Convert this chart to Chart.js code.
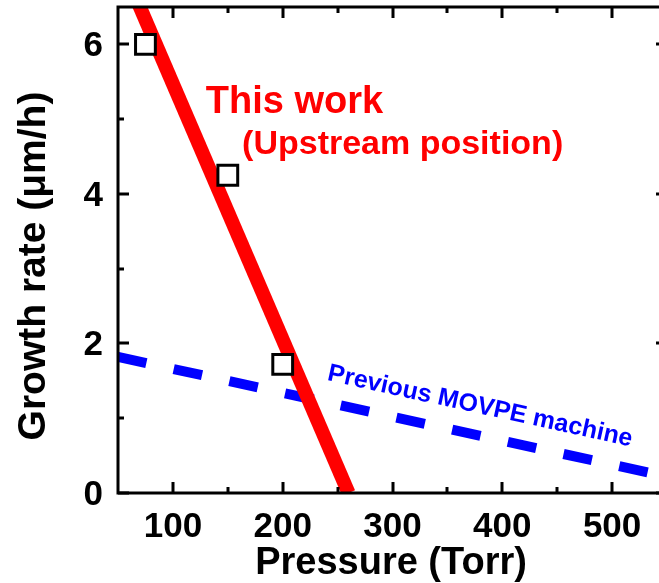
<!DOCTYPE html>
<html>
<head>
<meta charset="utf-8">
<script src="https://cdn.jsdelivr.net/npm/chart.js@4/dist/chart.umd.min.js"></script>
<style>
  html, body { margin: 0; padding: 0; background: #fff; overflow: hidden; }
  #wrap { width: 659px; height: 583px; overflow: hidden; }
</style>
</head>
<body>
<div id="wrap"><canvas id="chGrowth" width="680" height="583"></canvas></div>
<script>
// measured growth rates (open squares)
var pressure = [75, 150, 200];
var growthRate = [6.0, 4.25, 1.72];

// red fit line, this work
var fitX = [60, 260];
var fitY = [6.84, 0];

// blue dashed line, previous MOVPE machine
var prevX = [50, 550];
var prevY = [1.82, 0.22];

// axis ticks
var xTicks = [100, 200, 300, 400, 500];
var xMinor = [150, 250, 350, 450];
var yTicks = [0, 2, 4, 6];
var yMinor = [1, 3, 5];

var font = "'Liberation Sans', Arial, sans-serif";

function pts(xs, ys) {
  return xs.map(function (v, i) { return {x: v, y: ys[i]}; });
}

// frame with inward ticks on all four sides, tick labels, titles and notes
var framePlugin = {
  id: 'frame',
  afterDatasetsDraw: function (chart) {
    var ctx = chart.ctx, a = chart.chartArea;
    var sx = chart.scales.x, sy = chart.scales.y;
    ctx.save();
    ctx.strokeStyle = '#000';
    ctx.lineWidth = 3;
    ctx.lineCap = 'butt';
    ctx.strokeRect(a.left, a.top, a.right - a.left, a.bottom - a.top);

    function xTick(v, len) {
      var px = Math.round(sx.getPixelForValue(v));
      ctx.beginPath();
      ctx.moveTo(px, a.bottom); ctx.lineTo(px, a.bottom - len);
      ctx.moveTo(px, a.top); ctx.lineTo(px, a.top + len);
      ctx.stroke();
    }
    function yTick(v, len) {
      var py = Math.round(sy.getPixelForValue(v));
      ctx.beginPath();
      ctx.moveTo(a.left, py); ctx.lineTo(a.left + len, py);
      ctx.moveTo(a.right, py); ctx.lineTo(a.right - len, py);
      ctx.stroke();
    }
    xTicks.forEach(function (v) { xTick(v, 11); });
    xMinor.forEach(function (v) { xTick(v, 6); });
    yTicks.forEach(function (v) { yTick(v, 11); });
    yMinor.forEach(function (v) { yTick(v, 6); });

    // tick labels
    ctx.fillStyle = '#000';
    ctx.font = 'bold 35px ' + font;
    ctx.textBaseline = 'alphabetic';
    ctx.textAlign = 'center';
    xTicks.forEach(function (v) {
      ctx.fillText(String(v), sx.getPixelForValue(v), a.bottom + 44);
    });
    ctx.textAlign = 'right';
    yTicks.forEach(function (v) {
      ctx.fillText(String(v), a.left - 15, sy.getPixelForValue(v) + 12);
    });

    // axis titles
    ctx.font = 'bold 38px ' + font;
    ctx.textAlign = 'center';
    ctx.fillText('Pressure (Torr)', 391, 574);
    ctx.save();
    ctx.translate(45, 266);
    ctx.rotate(-Math.PI / 2);
    ctx.font = 'bold 39px ' + font;
    ctx.fillText('Growth rate (\u03bcm/h)', 0, 0);
    ctx.restore();

    // annotations anchored in data space
    ctx.textAlign = 'left';
    ctx.fillStyle = '#ff0000';
    ctx.font = 'bold 38px ' + font;
    ctx.fillText('This work', sx.getPixelForValue(130), sy.getPixelForValue(5.08));
    ctx.font = 'bold 34px ' + font;
    ctx.fillText('(Upstream position)', sx.getPixelForValue(163), sy.getPixelForValue(4.53));

    ctx.fillStyle = '#0000ff';
    ctx.font = 'bold 25px ' + font;
    ctx.save();
    ctx.translate(sx.getPixelForValue(240), sy.getPixelForValue(1.51));
    ctx.rotate(12.3 * Math.PI / 180);
    ctx.fillText('Previous MOVPE machine', 0, 0);
    ctx.restore();

    ctx.restore();
  }
};

new Chart(document.getElementById('chGrowth'), {
  type: 'scatter',
  data: {
    datasets: [
      {
        data: pts(pressure, growthRate),
        pointStyle: 'rect',
        pointRadius: 14,
        pointBorderWidth: 3,
        pointBackgroundColor: '#fff',
        pointBorderColor: '#000',
        showLine: false
      },
      {
        data: pts(fitX, fitY),
        showLine: true,
        borderColor: '#ff0000',
        borderWidth: 14,
        pointRadius: 0,
        clip: 0
      },
      {
        data: pts(prevX, prevY),
        showLine: true,
        borderColor: '#0000ff',
        borderWidth: 10,
        borderDash: [29, 28],
        borderCapStyle: 'butt',
        pointRadius: 0,
        clip: 0
      }
    ]
  },
  options: {
    responsive: false,
    animation: false,
    layout: { autoPadding: false, padding: { top: 7, right: 13, left: 0, bottom: 0 } },
    plugins: {
      legend: { display: false },
      tooltip: { enabled: false }
    },
    scales: {
      x: {
        type: 'linear',
        min: 50,
        max: 550,
        grid: { display: false, drawTicks: false },
        border: { display: false },
        ticks: { display: false },
        afterFit: function (s) { s.height = 90; }
      },
      y: {
        min: 0,
        max: 6.5,
        grid: { display: false, drawTicks: false },
        border: { display: false },
        ticks: { display: false },
        afterFit: function (s) { s.width = 118; }
      }
    }
  },
  plugins: [framePlugin]
});
</script>
</body>
</html>
